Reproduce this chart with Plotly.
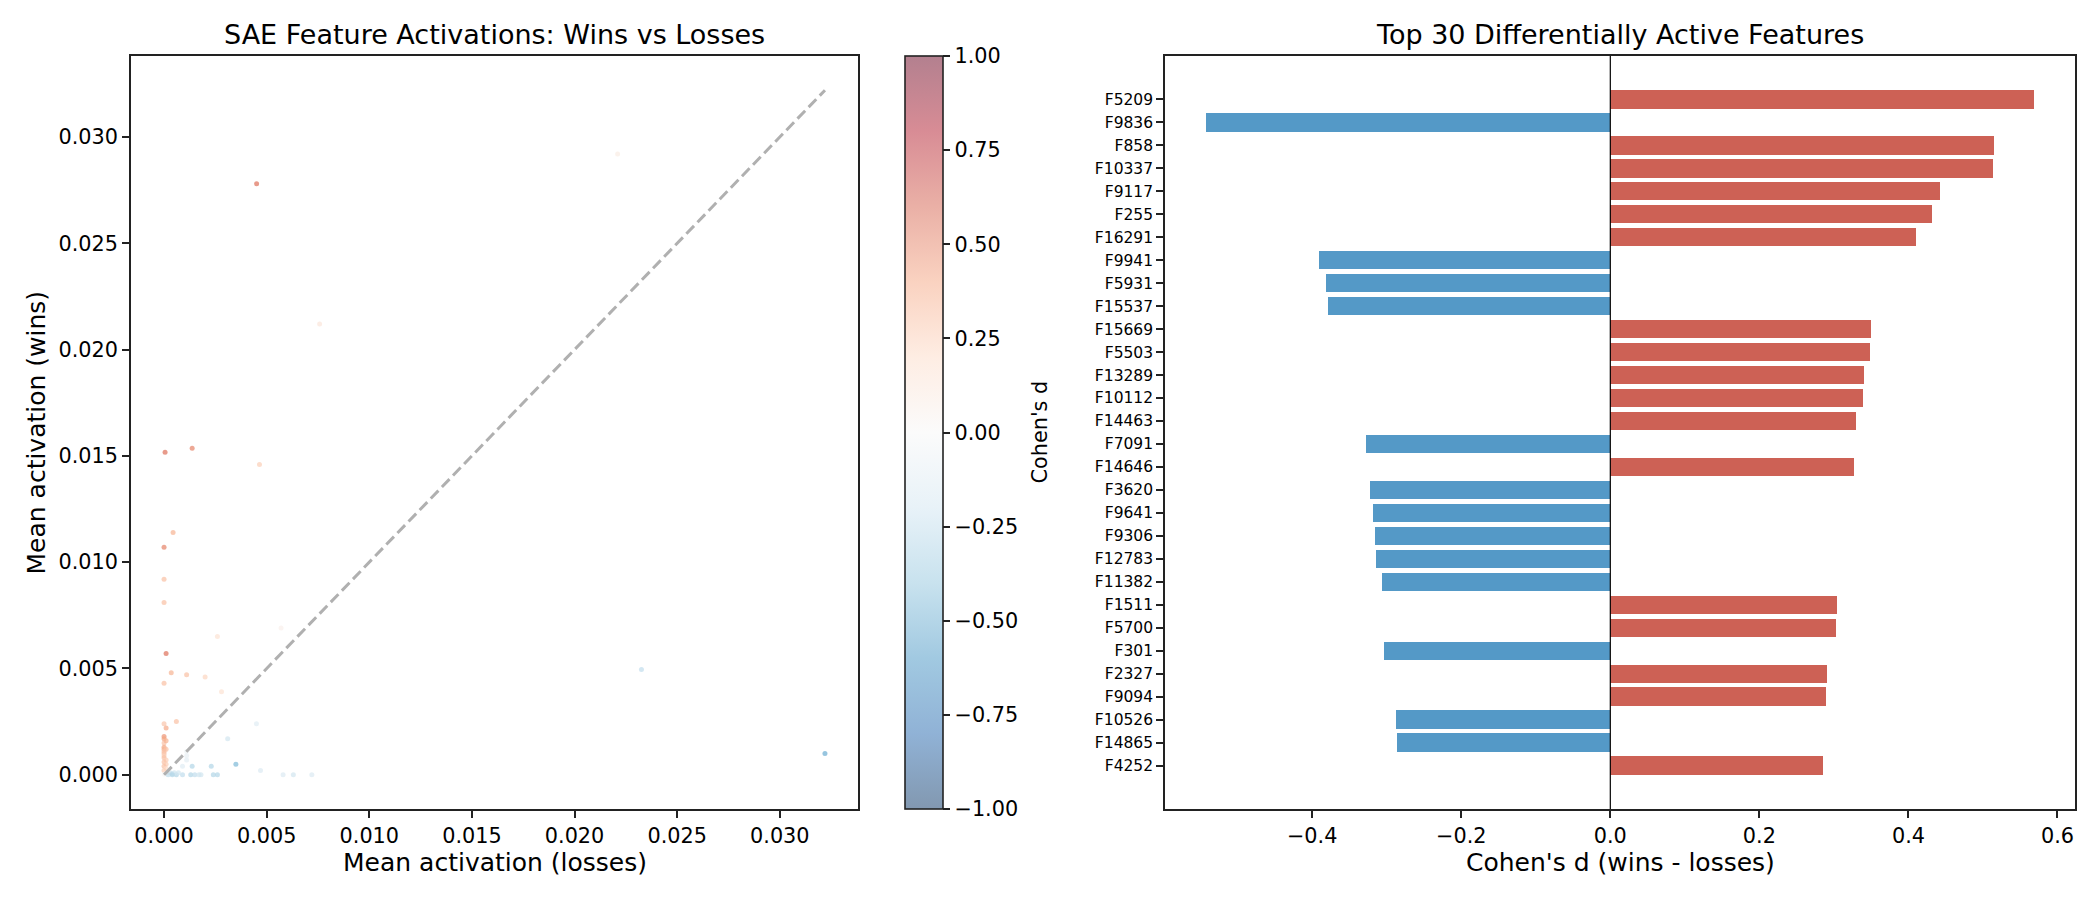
import plotly.graph_objects as go

# ---------------- data: scatter (per SAE feature) ----------------
loss_mean = [0.00451, 0.0221, 0.00758, 0.00005, 0.00137, 0.00465, 0.00044, 0.0, 0.0, 0.0,
             0.0057, 0.0026, 0.0001, 0.00035, 0.0011, 0.002, 0.0, 0.0028, 0.02326, 0.0322,
             0.0006, 0.0, 0.0001, 0.0, 0.0, 0.0, 0.0, 0.0, 0.0, 0.0,
             0.0, 0.0, 0.0001, 0.0, 0.0001, 0.0, 0.0001, 0.0, 0.0002, 0.00002,
             0.0045, 0.0031, 0.0035, 0.0023, 0.00137, 0.0047, 0.0006, 0.0009, 0.0013, 0.0015,
             0.0017, 0.0018, 0.0024, 0.0026, 0.0058, 0.0063, 0.0072, 0.0011, 0.0009, 0.0003,
             0.0004, 0.0005, 0.0002, 0.0004, 0.0007, 0.0011, 0.0011, 0.0001, 0.0001]
win_mean = [0.0278, 0.0292, 0.0212, 0.01517, 0.01536, 0.0146, 0.0114, 0.0107, 0.0092, 0.0081,
            0.0069, 0.0065, 0.0057, 0.0048, 0.0047, 0.0046, 0.0043, 0.0039, 0.00495, 0.0010,
            0.0025, 0.0024, 0.0022, 0.0018, 0.0017, 0.0015, 0.0013, 0.0012, 0.0011, 0.0010,
            0.0009, 0.0008, 0.0007, 0.0006, 0.0005, 0.0004, 0.0003, 0.0002, 0.0001, 0.00002,
            0.0024, 0.0017, 0.0005, 0.0004, 0.0004, 0.0002, 0.0, 0.0, 0.0, 0.0,
            0.0, 0.0, 0.0, 0.0, 0.0, 0.0, 0.0, 0.0007, 0.0004, 0.0001,
            0.00005, 0.0001, 0.0, 0.0, 0.0001, 0.0011, 0.0009, 0.0012, 0.0016]
scatter_d = [0.55, 0.08, 0.12, 0.55, 0.5, 0.25, 0.35, 0.5, 0.3, 0.3,
             0.05, 0.15, 0.55, 0.35, 0.3, 0.22, 0.3, 0.15, -0.25, -0.5,
             0.3, 0.28, 0.38, 0.45, 0.4, 0.3, 0.4, 0.35, 0.3, 0.3,
             0.25, 0.3, 0.25, 0.3, 0.25, 0.3, 0.2, 0.25, 0.15, 0.0,
             -0.12, -0.2, -0.45, -0.3, -0.3, -0.15, -0.3, -0.25, -0.3, -0.25,
             -0.2, -0.2, -0.3, -0.3, -0.15, -0.2, -0.15, -0.1, -0.12, -0.2,
             -0.25, -0.2, -0.25, -0.3, -0.2, -0.05, -0.08, 0.3, 0.35]

# ---------------- data: top 30 features ----------------
features = ["F5209", "F9836", "F858", "F10337", "F9117", "F255", "F16291", "F9941", "F5931", "F15537",
            "F15669", "F5503", "F13289", "F10112", "F14463", "F7091", "F14646", "F3620", "F9641", "F9306",
            "F12783", "F11382", "F1511", "F5700", "F301", "F2327", "F9094", "F10526", "F14865", "F4252"]
feature_d = [0.568, -0.542, 0.5145, 0.513, 0.443, 0.431, 0.4096, -0.3914, -0.3818, -0.3794,
             0.3504, 0.349, 0.341, 0.3397, 0.330, -0.3283, 0.3276, -0.3231, -0.3178, -0.3164,
             -0.3149, -0.3059, 0.3047, 0.3034, -0.3030, 0.2913, 0.2899, -0.2882, -0.2867, 0.2859]

x_ticks_left = [0.0, 0.005, 0.010, 0.015, 0.020, 0.025, 0.030]
cbar_ticks = [-1.0, -0.75, -0.5, -0.25, 0.0, 0.25, 0.5, 0.75, 1.0]
x_ticks_right = [-0.4, -0.2, 0.0, 0.2, 0.4, 0.6]

# ---------------- styling ----------------
W, H = 2100, 900
FONT = "DejaVu Sans"
TICK = 20.8
rdbu_r = ["#053061", "#2166ac", "#4393c3", "#92c5de", "#d1e5f0", "#f7f7f7",
          "#fddbc7", "#f4a582", "#d6604d", "#b2182b", "#67001f"]


def blend(hexc, a=0.5):
    r, g, b = int(hexc[1:3], 16), int(hexc[3:5], 16), int(hexc[5:7], 16)
    r, g, b = [round(a * c + (1 - a) * 255) for c in (r, g, b)]
    return f"rgb({r},{g},{b})"


scale_full = [[i / 10, c] for i, c in enumerate(rdbu_r)]
scale_faded = [[i / 10, blend(c)] for i, c in enumerate(rdbu_r)]

# pixel geometry -> paper coordinates
TOP, BOT = 56, 809
L_x0, L_x1 = 131 / W, 858 / W
R_x0, R_x1 = 1165 / W, 2075 / W
Y0, Y1 = 1 - BOT / H, 1 - TOP / H

fig = go.Figure()

# scatter (visible marks)
fig.add_trace(go.Scatter(
    x=loss_mean, y=win_mean, mode="markers",
    marker=dict(size=5, color=scatter_d, colorscale=scale_full, cmin=-1, cmax=1,
                opacity=0.7, line=dict(width=0), showscale=False),
    xaxis="x", yaxis="y", showlegend=False, hoverinfo="skip"))
# same data, transparent, only to carry the (faded) colorbar
fig.add_trace(go.Scatter(
    x=loss_mean, y=win_mean, mode="markers",
    marker=dict(size=1, color=scatter_d, colorscale=scale_faded, cmin=-1, cmax=1,
                opacity=0, showscale=True,
                colorbar=dict(x=905 / W, xanchor="left", y=Y0, yanchor="bottom",
                              len=BOT - TOP, lenmode="pixels", thickness=38, thicknessmode="pixels",
                              xpad=0, ypad=0, outlinewidth=1.6, outlinecolor="#222222",
                              tickvals=cbar_ticks, tickformat=".2f", ticks="outside",
                              ticklen=7, tickwidth=1.6, tickcolor="#222222",
                              tickfont=dict(family=FONT, size=TICK, color="black"))),
    xaxis="x", yaxis="y", showlegend=False, hoverinfo="skip"))

# diagonal reference line y = x
max_val = max(max(loss_mean), max(win_mean))
fig.add_trace(go.Scatter(
    x=[0, max_val], y=[0, max_val], mode="lines",
    line=dict(color="#b0b0b0", width=3, dash="11px,5px"),
    xaxis="x", yaxis="y", showlegend=False, hoverinfo="skip"))

# bar chart
n = len(features)
ypos = list(range(n - 1, -1, -1))
bar_colors = ["#cd6155" if d > 0 else "#5499c7" for d in feature_d]
fig.add_trace(go.Bar(
    x=feature_d, y=ypos, orientation="h", width=0.8,
    marker=dict(color=bar_colors, line=dict(width=0)),
    xaxis="x2", yaxis="y2", showlegend=False, hoverinfo="skip"))

# axis ranges (matplotlib-like 5% margins)
lo = min(min(loss_mean), min(win_mean))
span = max_val - lo
rng_left = [lo - 0.05 * span, max_val + 0.05 * span]
xmin_r, xmax_r = min(feature_d), max(feature_d)
span_r = xmax_r - xmin_r
rng_right = [xmin_r - 0.05 * span_r, xmax_r + 0.05 * span_r]
span_y = (n - 1 + 0.4) - (-0.4)
rng_y2 = [-0.4 - 0.05 * span_y, n - 1 + 0.4 + 0.05 * span_y]

axis_common = dict(showline=True, mirror=True, linecolor="#222222", linewidth=1.6,
                   ticks="outside", ticklen=7, tickwidth=1.6, tickcolor="#222222",
                   showgrid=False, zeroline=False,
                   tickfont=dict(family=FONT, size=TICK, color="black"))

fig.update_layout(
    width=W, height=H, margin=dict(l=0, r=0, t=0, b=0),
    paper_bgcolor="white", plot_bgcolor="white",
    font=dict(family=FONT, color="black"),
    bargap=0,
    xaxis=dict(domain=[L_x0, L_x1], anchor="y", range=rng_left,
               tickvals=x_ticks_left, tickformat=".3f", **axis_common),
    yaxis=dict(domain=[Y0, Y1], anchor="x", range=rng_left,
               tickvals=x_ticks_left, tickformat=".3f", **axis_common),
    xaxis2=dict(domain=[R_x0, R_x1], anchor="y2", range=rng_right,
                tickvals=x_ticks_right, tickformat=".1f", **axis_common),
    yaxis2=dict(domain=[Y0, Y1], anchor="x2", range=rng_y2,
                tickvals=ypos, ticktext=features,
                **{**axis_common, "tickfont": dict(family=FONT, size=15.5, color="black")}),
    shapes=[dict(type="line", xref="x2", yref="paper", x0=0, x1=0, y0=Y0, y1=Y1,
                 line=dict(color="black", width=1.2))],
    annotations=[
        dict(text="SAE Feature Activations: Wins vs Losses", x=(L_x0 + L_x1) / 2, y=1 - 35 / H,
             xref="paper", yref="paper", showarrow=False, xanchor="center", yanchor="middle",
             font=dict(family=FONT, size=27, color="black")),
        dict(text="Top 30 Differentially Active Features", x=(R_x0 + R_x1) / 2, y=1 - 35 / H,
             xref="paper", yref="paper", showarrow=False, xanchor="center", yanchor="middle",
             font=dict(family=FONT, size=27, color="black")),
        dict(text="Mean activation (losses)", x=(L_x0 + L_x1) / 2, y=1 - 862 / H,
             xref="paper", yref="paper", showarrow=False, xanchor="center", yanchor="middle",
             font=dict(family=FONT, size=25, color="black")),
        dict(text="Mean activation (wins)", x=36 / W, y=(Y0 + Y1) / 2,
             xref="paper", yref="paper", showarrow=False, xanchor="center", yanchor="middle",
             textangle=-90, font=dict(family=FONT, size=25, color="black")),
        dict(text="Cohen's d (wins - losses)", x=(R_x0 + R_x1) / 2, y=1 - 862 / H,
             xref="paper", yref="paper", showarrow=False, xanchor="center", yanchor="middle",
             font=dict(family=FONT, size=25, color="black")),
        dict(text="Cohen's d", x=1040 / W, y=(Y0 + Y1) / 2,
             xref="paper", yref="paper", showarrow=False, xanchor="center", yanchor="middle",
             textangle=-90, font=dict(family=FONT, size=TICK, color="black")),
    ],
)

fig.write_html("out.html")
